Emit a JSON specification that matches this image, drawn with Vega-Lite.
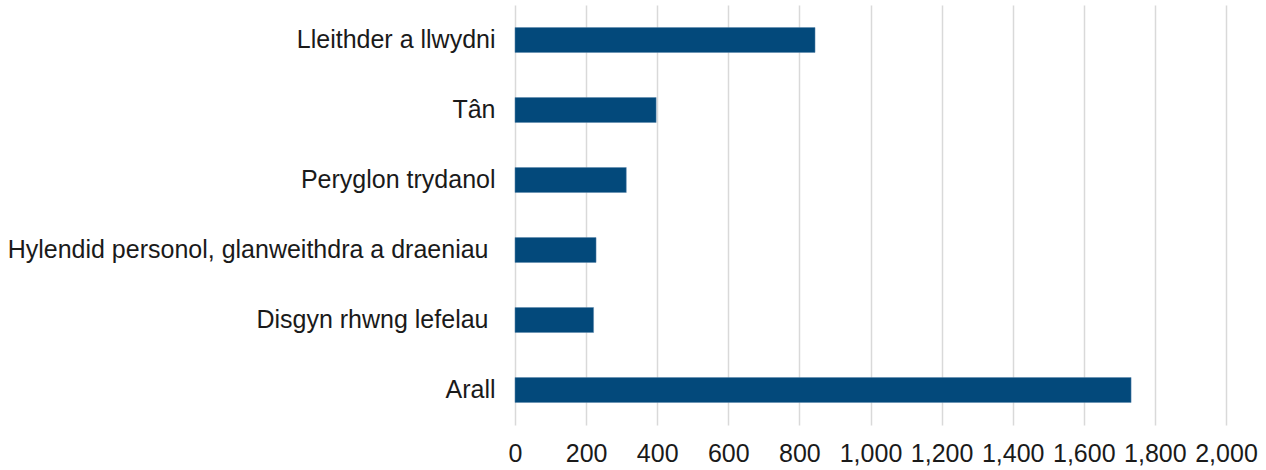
{
  "$schema": "https://vega.github.io/schema/vega-lite/v6.json",
  "autosize": {"type": "none"},
  "padding": {"left": 515, "top": 5, "right": 40, "bottom": 45},
  "width": 711,
  "height": 420,
  "background": "white",
  "config": {
    "view": {"stroke": null},
    "font": "Liberation Sans"
  },
  "data": {
    "values": [
      {"category": "Lleithder a llwydni", "value": 844},
      {"category": "Tân", "value": 397},
      {"category": "Peryglon trydanol", "value": 313},
      {"category": "Hylendid personol, glanweithdra a draeniau", "value": 228},
      {"category": "Disgyn rhwng lefelau", "value": 221},
      {"category": "Arall", "value": 1733}
    ]
  },
  "mark": {"type": "bar", "color": "#03497b", "stroke": "#5b86ad", "strokeWidth": 0.5},
  "encoding": {
    "y": {
      "field": "category",
      "type": "nominal",
      "sort": null,
      "scale": {"paddingInner": 0.643, "paddingOuter": 0.3215},
      "axis": {
        "title": null,
        "domain": false,
        "ticks": false,
        "labelFontSize": 25,
        "labelColor": "#1a1a1a",
        "labelPadding": {
          "condition": {"test": "indexof(datum.value, 'Hylendid') >= 0 || indexof(datum.value, 'Disgyn') >= 0", "value": 27},
          "value": 20
        },
        "labelLimit": 600
      }
    },
    "x": {
      "field": "value",
      "type": "quantitative",
      "scale": {"domain": [0, 2000], "nice": false},
      "axis": {
        "title": null,
        "values": [0, 200, 400, 600, 800, 1000, 1200, 1400, 1600, 1800, 2000],
        "format": ",d",
        "domain": false,
        "ticks": false,
        "grid": true,
        "gridColor": "#d9d9d9",
        "gridWidth": 1.5,
        "labelFontSize": 25,
        "labelColor": "#1a1a1a",
        "labelPadding": 16,
        "labelFlush": false,
        "labelOverlap": false
      }
    }
  }
}
